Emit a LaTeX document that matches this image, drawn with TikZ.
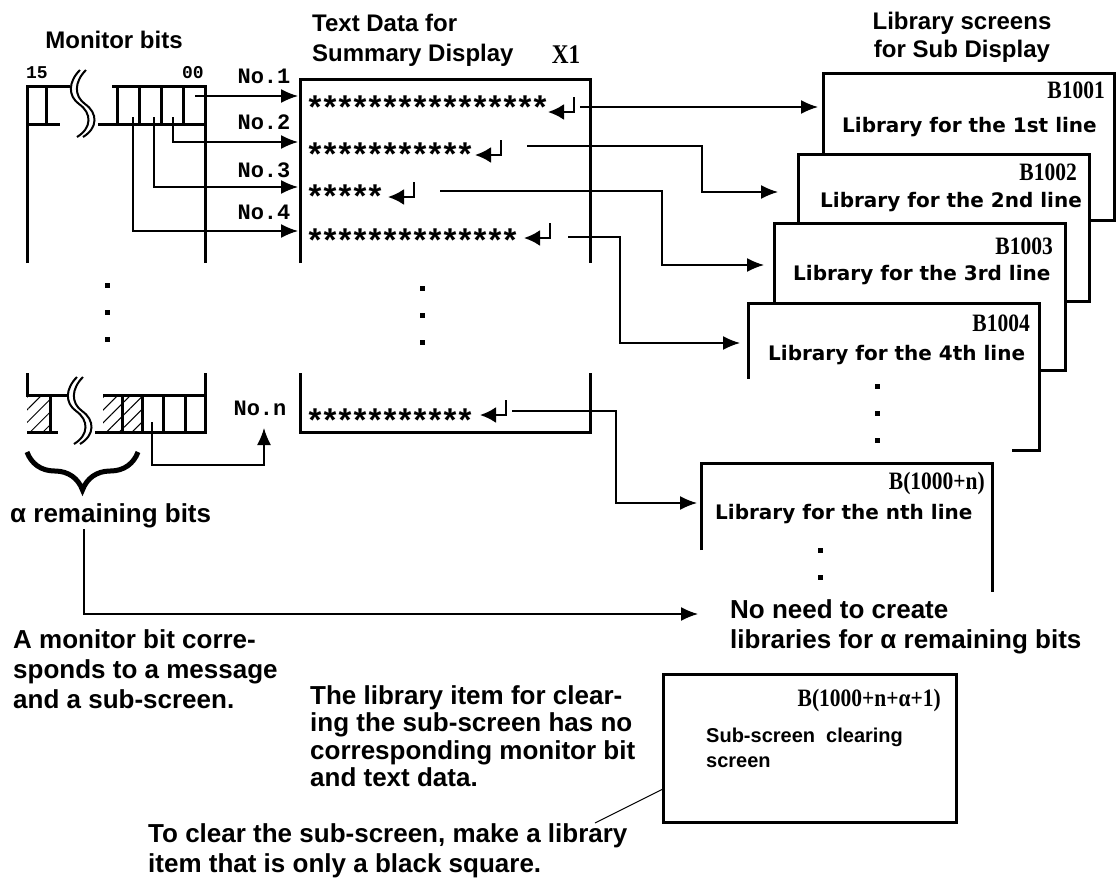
\documentclass[tikz,border=0pt]{standalone}
\usepackage{fontspec}
\setmainfont{Liberation Sans}
\newfontfamily\codefont[FakeStretch=0.86,UprightFont={* Bold}]{Liberation Serif}
\newfontfamily\monofont[UprightFont={* Bold}]{Liberation Mono}
\newfontfamily\scrfont{DejaVu Sans}
\usetikzlibrary{arrows.meta,patterns.meta,decorations.pathreplacing}
\newcommand{\retmark}[2]{\draw[line width=2.5pt,-{Latex[length=16pt,width=16pt]}] (#1,#2-15) -- (#1,#2) -- (#1-26,#2);}
\newcommand{\starrow}[3]{\foreach \i in {1,...,#3} \node[star] (#1-\i) at (300+15*\i,#2+19) {*};}
\newcommand{\dotcol}[3]{\foreach \k in {0,...,#3} \fill (#1-2.5,#2+27*\k-2.5) rectangle ++(5,5);}
\newcommand{\wavy}[2]{%
  \draw[line width=2pt] (#1,#2) .. controls (#1-12,#2+12) and (#1-12,#2+26) .. (#1-1,#2+34) .. controls (#1+12,#2+43) and (#1+12,#2+58) .. (#1-3,#2+67);
  \draw[line width=2pt] (#1+6,#2) .. controls (#1-6,#2+12) and (#1-6,#2+26) .. (#1+5,#2+34) .. controls (#1+18,#2+43) and (#1+18,#2+58) .. (#1+3,#2+67);}

\begin{document}
\begin{tikzpicture}[x=1pt,y=-1pt,
  frame/.style={line width=3pt},
  conn/.style={line width=1.5pt,-{Latex[length=17pt,width=14pt]}},
  head/.style={font=\bfseries\fontsize{24}{28}\selectfont,inner sep=0pt},
  note/.style={font=\bfseries\fontsize{26}{30}\selectfont,inner sep=0pt,align=left,anchor=west},
  code/.style={font=\codefont\fontsize{25}{25}\selectfont,inner sep=0pt},
  num/.style={font=\monofont\fontsize{22}{22}\selectfont,inner sep=0pt},
  star/.style={font=\bfseries\fontsize{33}{33}\selectfont,inner sep=0pt,anchor=base},
  screen/.style={draw,line width=3pt,fill=white,minimum width=291pt,minimum height=147pt,inner sep=0pt,outer sep=0pt},
  libtext/.style={font=\scrfont\bfseries\fontsize{20}{20}\selectfont,inner sep=0pt,anchor=west},
  hatch/.style={pattern={Lines[angle=45,distance=9pt,line width=1pt]}}]

\path[fill=white,use as bounding box] (0,0) rectangle (1120,895);

\node[head] (mon) at (114,40) {Monitor bits};
\node[head,align=left,anchor=west,font=\bfseries\fontsize{24}{30}\selectfont] (txt) at (312,40) {Text Data for\\Summary Display};
\node[code,font=\codefont\fontsize{27}{27}\selectfont] (mark) at (566,55) {X1};
\node[head,align=center] (lib) at (962,37) {Library screens\\for Sub Display};

\node[num,font=\monofont\fontsize{18}{18}\selectfont] (hi) at (37,73) {15};
\node[num,font=\monofont\fontsize{18}{18}\selectfont] (lo) at (193,73) {00};
\draw[frame] (27,263) |- (70,86);
\draw[frame] (27,124) -- (60,124) (46,86) -- (46,124);
\draw[frame] (112,86) -| (205,263);
\draw[frame] (98,124) -- (205,124);
\foreach \x in {117,139,161,183} \draw[frame] (\x,86) -- (\x,124);
\wavy{80}{70}

\fill[hatch] (27,395) rectangle (50,432);
\fill[hatch] (103,395) rectangle (142,432);
\draw[frame] (27,373) |- (68,395);
\draw[frame] (27,432) -- (58,432) (50,395) -- (50,432);
\draw[frame] (103,395) -| (205,373);
\draw[frame] (95,432) -| (205,395);
\foreach \x in {122,142,163,185} \draw[frame] (\x,395) -- (\x,432);
\wavy{77}{377}

\dotcol{107}{285}{2}
\dotcol{422}{288}{2}

\coordinate (b0) at (195,96);
\coordinate (b1) at (173,117);
\coordinate (b2) at (154,117);
\coordinate (b3) at (133,117);
\coordinate (bn) at (152,422);
\coordinate (in1) at (298,96);
\coordinate (in2) at (298,142);
\coordinate (in3) at (298,187);
\coordinate (in4) at (298,231);
\coordinate (tn) at (264,428);

\foreach \n/\y in {1/76,2/122,3/170,4/212} \node[num] (no\n) at (264,\y) {No.\n};
\node[num] (non) at (260,408) {No.n};

\draw[conn] (b0) -- (in1);
\draw[conn] (b1) |- (in2);
\draw[conn] (b2) |- (in3);
\draw[conn] (b3) |- (in4);
\draw[conn] (bn) |- (264,465) -- (tn);

\draw[frame] (300,263) |- (590,79) -- (590,263);
\draw[frame] (300,373) |- (590,432) -- (590,373);

\starrow{s1}{99}{16}
\starrow{s2}{146}{11}
\starrow{s3}{188}{5}
\starrow{s4}{232}{14}
\starrow{sn}{412}{11}
\retmark{574}{112}
\retmark{501}{155}
\retmark{414}{197}
\retmark{550}{238}
\retmark{506}{415}

\node[screen] (B1) at (969,146.5) {};
\node[screen] (B2) at (944,227.5) {};
\node[screen] (B3) at (919.5,297) {};
\node[screen,draw=none] (B4) at (893.5,377) {};
\draw[frame] ([yshift=-75pt]B4.north west) |- (B4.north east) |- ([xshift=-27pt]B4.south east);
\node[screen,draw=none,minimum height=129pt] (Bn) at (847,527.5) {};
\draw[frame] ([yshift=-87pt]Bn.north west) |- (Bn.north east) -- (Bn.south east);

\node[code,anchor=east] (c1) at (1105,90) {B1001};
\node[libtext] (u1) at (842,127) {Library for the 1st line};
\node[code,anchor=east] (c2) at (1077,172) {B1002};
\node[libtext] (u2) at (820,202) {Library for the 2nd line};
\node[code,anchor=east] (c3) at (1053,246) {B1003};
\node[libtext] (u3) at (793,275) {Library for the 3rd line};
\node[code,anchor=east] (c4) at (1030,323) {B1004};
\node[libtext] (u4) at (768,355) {Library for the 4th line};
\node[code,anchor=east] (cn) at (985,483) {B(1000+n)};
\node[libtext] (un) at (715,514) {Library for the nth line};
\dotcol{877}{386}{2}
\dotcol{820}{550}{1}

\coordinate (r1) at (580,107);
\coordinate (r2) at (527,146);
\coordinate (r3) at (440,191);
\coordinate (r4) at (568,237);
\coordinate (rn) at (512,411);
\coordinate (l1) at (818,107);
\coordinate (l2) at (778,192);
\coordinate (l3) at (764,265);
\coordinate (l4) at (740,343);
\coordinate (ln) at (697,503);
\draw[conn] (r1) -- (l1);
\draw[conn] (r2) -| (702,192) -- (l2);
\draw[conn] (r3) -| (662,265) -- (l3);
\draw[conn] (r4) -| (620,343) -- (l4);
\draw[conn] (rn) -| (616,503) -- (ln);

\draw[line width=5pt,decorate,decoration={brace,mirror,amplitude=38pt}] (27,452) -- (138,452);
\node[note] (rem) at (10,516) {α remaining bits};
\coordinate (a0) at (84,529);
\coordinate (a1) at (698,614);
\draw[conn] (a0) |- (a1);
\node[note] (noneed) at (730,627) {No need to create\\libraries for α remaining bits};

\node[note] (n1) at (13,669) {A monitor bit corre-\\sponds to a message\\and a sub-screen.};
\node[note,font=\bfseries\fontsize{26}{27.5}\selectfont] (n2) at (310,736) {The library item for clear-\\ing the sub-screen has no\\corresponding monitor bit\\and text data.};
\node[note] (n3) at (148,851) {To clear the sub-screen, make a library\\item that is only a black square.};

\node[screen,minimum width=293pt,minimum height=148pt] (Bc) at (809.5,748) {};
\node[code,anchor=east] (cc) at (941,700) {B(1000+n+α+1)};
\node[font=\bfseries\fontsize{20}{25}\selectfont,align=left,anchor=west,inner sep=0pt] (uc) at (706,748) {Sub-screen\ \ clearing\\screen};
\coordinate (pc) at (595,823);
\draw[line width=1pt] ([yshift=-41pt]Bc.west) -- (pc);
\end{tikzpicture}
\end{document}
